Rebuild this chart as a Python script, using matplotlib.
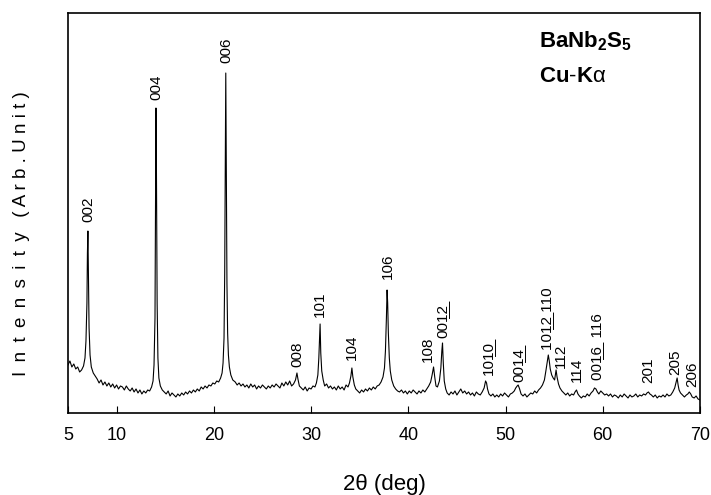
import numpy as np
import matplotlib
matplotlib.use("Agg")
import matplotlib.pyplot as plt

plt.rcParams['font.family'] = ['Liberation Sans', 'DejaVu Sans']
plt.rcParams['mathtext.fontset'] = 'custom'
plt.rcParams['mathtext.rm'] = 'Liberation Sans'
plt.rcParams['mathtext.bf'] = 'Liberation Sans:bold'

# XRD pattern (2theta in deg, intensity in arb. units)
two_theta = [
    5.0, 5.2, 5.4, 5.6, 5.8, 6.0, 6.2, 6.4, 6.6, 6.75, 6.85, 6.95, 7.0, 7.05, 7.1, 7.17, 7.27, 7.4, 7.6, 7.8,
    8.0, 8.2, 8.4, 8.6, 8.8, 9.0, 9.2, 9.4, 9.6, 9.8, 10.0, 10.2, 10.4, 10.6, 10.8, 11.0, 11.2, 11.4, 11.6, 11.8,
    12.0, 12.2, 12.4, 12.6, 12.8, 13.0, 13.2, 13.4, 13.6, 13.75, 13.85, 13.95, 14.0, 14.05, 14.1, 14.17, 14.25, 14.35, 14.5, 14.7,
    14.9, 15.1, 15.3, 15.5, 15.7, 15.9, 16.1, 16.3, 16.5, 16.7, 16.9, 17.1, 17.3, 17.5, 17.7, 17.9, 18.1, 18.3, 18.5, 18.7,
    18.9, 19.1, 19.3, 19.5, 19.7, 19.9, 20.1, 20.3, 20.5, 20.7, 20.85, 20.95, 21.05, 21.12, 21.18, 21.23, 21.28, 21.35, 21.42, 21.5,
    21.6, 21.75, 21.95,
    22.2, 22.4, 22.6, 22.8, 23.0, 23.2, 23.4, 23.6, 23.8, 24.0, 24.2, 24.4, 24.6, 24.8, 25.0, 25.2, 25.4, 25.6, 25.8, 26.0,
    26.2, 26.4, 26.6, 26.8, 27.0, 27.2, 27.4, 27.6, 27.8, 28.0, 28.2, 28.4, 28.55, 28.65, 28.8, 29.0,
    29.2, 29.4, 29.6, 29.8, 30.0, 30.2, 30.4, 30.55, 30.7, 30.8, 30.87, 30.93, 31.0, 31.1, 31.25, 31.4, 31.6, 31.8, 32.0, 32.2,
    32.4, 32.6, 32.8, 33.0, 33.2, 33.4, 33.6, 33.8, 33.95, 34.1, 34.2, 34.3, 34.45, 34.6, 34.8, 35.0,
    35.2, 35.4, 35.6, 35.8, 36.0, 36.2, 36.4, 36.6, 36.8, 37.0, 37.2, 37.4, 37.55, 37.65, 37.75, 37.82, 37.88, 37.95, 38.05, 38.15,
    38.3, 38.5, 38.7, 38.9,
    39.1, 39.3, 39.5, 39.7, 39.9, 40.1, 40.3, 40.5, 40.7, 40.9, 41.1, 41.3, 41.5, 41.7, 41.9, 42.1, 42.3, 42.45, 42.6, 42.72,
    42.85, 43.0, 43.2, 43.35, 43.45, 43.52, 43.6, 43.7, 43.85, 44.0, 44.2, 44.4,
    44.6, 44.8, 45.0, 45.2, 45.4, 45.6, 45.8, 46.0, 46.2, 46.4, 46.6, 46.8, 47.0, 47.2, 47.4, 47.6, 47.8, 47.95, 48.05, 48.15,
    48.3, 48.5, 48.7, 48.9,
    49.1, 49.3, 49.5, 49.7, 49.9, 50.1, 50.3, 50.5, 50.7, 50.9, 51.05, 51.2, 51.3, 51.45, 51.6, 51.8, 52.0, 52.2, 52.4, 52.6,
    52.8, 53.0, 53.2, 53.4, 53.6, 53.8, 54.0, 54.15, 54.3, 54.4, 54.5, 54.6, 54.75, 54.9, 55.05, 55.2, 55.3, 55.45, 55.6, 55.8,
    56.0,
    56.2, 56.4, 56.6, 56.8, 57.0, 57.15, 57.3, 57.45, 57.6, 57.8, 58.0, 58.2, 58.4, 58.6, 58.8, 59.0, 59.15, 59.3, 59.45, 59.6,
    59.8, 60.0, 60.2, 60.4,
    60.6, 60.8, 61.0, 61.2, 61.4, 61.6, 61.8, 62.0, 62.2, 62.4, 62.6, 62.8, 63.0, 63.2, 63.4, 63.6, 63.8, 64.0, 64.2, 64.4,
    64.55, 64.7, 64.85, 65.0, 65.2, 65.4, 65.6, 65.8, 66.0, 66.2, 66.4, 66.6, 66.8, 67.0, 67.2, 67.4, 67.55, 67.65, 67.75, 67.85,
    68.0, 68.2, 68.4, 68.6, 68.75, 68.9, 69.05, 69.2, 69.4, 69.6, 69.8, 70.0,
]
intensity = [
    48, 52, 46, 49, 44, 46, 41, 43, 47, 55, 72, 110, 160, 182, 140, 85, 58, 46, 40, 37,
    34, 30, 33, 28, 31, 27, 30, 26, 29, 25, 28, 24, 27, 26, 23, 27, 24, 22, 25, 21,
    24, 20, 23, 19, 22, 20, 23, 22, 26, 32, 48, 95, 200, 305, 240, 110, 55, 35, 27, 23,
    21, 19, 22, 17, 20, 18, 16, 19, 17, 20, 18, 21, 19, 22, 20, 23, 21, 24, 22, 26,
    24, 27, 25, 28, 27, 30, 29, 32, 31, 35, 40, 50, 75, 140, 260, 340, 250, 130, 80, 58,
    46, 38, 33,
    31, 28, 30, 27, 29, 26, 28, 25, 29, 26, 28, 24, 27, 25, 28, 26, 24, 27, 25, 28,
    26, 29, 27, 25, 30, 27, 31, 28, 32, 27, 29, 33, 40, 34, 27, 25,
    23, 26, 22, 25, 24, 27, 26, 30, 38, 55, 75, 89, 60, 42, 33, 27, 29, 25, 27, 24,
    26, 23, 27, 24, 26, 23, 28, 26, 30, 37, 45, 36, 28, 24, 22, 20,
    23, 21, 24, 22, 25, 23, 26, 24, 27, 28, 31, 36, 45, 62, 95, 123, 110, 80, 55, 42,
    33, 27, 24, 22,
    21, 23, 20, 22, 19, 22, 20, 23, 21, 19, 22, 20, 23, 21, 24, 27, 31, 38, 46, 36,
    27, 26, 32, 45, 62, 70, 50, 32, 24, 20, 18, 21,
    19, 22, 18, 21, 24, 20, 22, 19, 21, 18, 20, 17, 21, 19, 18, 21, 25, 32, 30, 24,
    19, 17, 19, 16,
    18, 16, 19, 17, 20, 18, 16, 19, 20, 22, 25, 27, 28, 24, 19, 17, 19, 16, 18, 20,
    19, 22, 20, 23, 25, 28, 33, 42, 52, 58, 52, 44, 38, 35, 33, 43, 36, 29, 25, 22,
    20,
    18, 20, 17, 19, 18, 21, 23, 19, 17, 15, 17, 16, 19, 17, 20, 22, 25, 24, 21, 19,
    22, 20, 18, 19,
    17, 19, 16, 18, 17, 15, 18, 16, 19, 17, 15, 18, 16, 17, 19, 16, 18, 17, 19, 18,
    20, 21, 19, 18, 16, 18, 15, 17, 16, 18, 16, 19, 17, 18, 21, 25, 31, 35, 28, 23,
    20, 18, 16, 18, 19, 21, 19, 16, 15, 17, 14, 13,
]


def ul(s):
    # underline digits with a combining low line
    return "".join(c + "\u0332" for c in s)


peak_labels = ["002", "004", "006", "008", "101", "104", "106", "108",
               "00" + ul("12"), "10" + ul("10"), "00" + ul("14"),
               "10" + ul("12") + " 110", "112", "114", "00" + ul("16") + "  116",
               "201", "205", "206"]
label_2theta = [7.06, 14.05, 21.25, 28.6, 30.93, 34.2, 37.85, 42.05, 43.55,
                48.2, 51.3, 54.3, 55.7, 57.3, 59.4, 64.7, 67.5, 69.2]
label_base = [191, 313, 350, 46, 96, 53, 134, 51, 75,
              38, 31, 63, 45, 31, 33, 30, 38, 26]

xticks = [5, 10, 20, 30, 40, 50, 60, 70]

fig = plt.figure(figsize=(7.11, 4.95), dpi=100)
ax = fig.add_axes([0.0956, 0.1657, 0.8889, 0.808])

ax.plot(two_theta, intensity, color='black', lw=0.8)

for lab, x, y in zip(peak_labels, label_2theta, label_base):
    ax.text(x, y, lab, rotation=90, ha='center', va='bottom', fontsize=11)

ax.text(53.4, 366, r"$\mathbf{BaNb_2S_5}$", fontsize=16, va='baseline')
ax.text(53.4, 331, r"$\mathbf{Cu\text{-}K}\mathrm{\alpha}$", fontsize=16, va='baseline')

ax.set_xlim(5, 70)
ax.set_ylim(0, 400)
ax.set_xticks(xticks)
ax.set_xticklabels([str(t) for t in xticks], fontsize=13)
ax.set_yticks([])
ax.tick_params(axis='x', direction='in', length=5, pad=10)
for s in ax.spines.values():
    s.set_linewidth(1.2)

ax.set_xlabel("2\u03b8 (deg)", fontsize=16, labelpad=22)

# letter-spaced y label as in the original scan
ylab = "\u2002".join("Intensity") + "\u2002 " + " ".join("(Arb.Unit)")
ax.set_ylabel(ylab, fontsize=13.5)
ax.yaxis.set_label_coords(-0.06, 0.4475)

fig.savefig("out.png", dpi=100)
